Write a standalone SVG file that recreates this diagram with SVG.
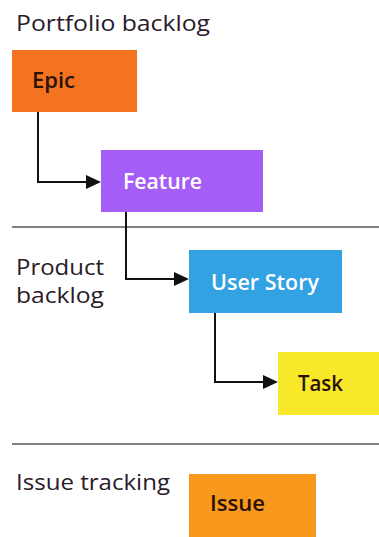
<svg xmlns="http://www.w3.org/2000/svg" width="379" height="537" viewBox="0 0 379 537">
<defs>
<style>
.lbl{font-family:"Open Sans","Noto Sans",sans-serif;font-size:22px;fill:#2a1a2a}
.sm{font-size:21px}
.nt{font-family:"Open Sans","Noto Sans",sans-serif;font-size:21px;font-weight:600}
.dark{fill:#2a1208}
.light{fill:#ffffff}
.sep{stroke:#808080;stroke-width:2}
.con{fill:none;stroke:#111;stroke-width:2}
.head{fill:#111}
</style>
</defs>
<rect width="379" height="537" fill="#ffffff"/>
<text class="lbl" x="16" y="31" textLength="194" lengthAdjust="spacingAndGlyphs">Portfolio backlog</text>
<text class="lbl sm" x="16" y="275" textLength="88" lengthAdjust="spacingAndGlyphs">Product</text>
<text class="lbl sm" x="16" y="303" textLength="88" lengthAdjust="spacingAndGlyphs">backlog</text>
<text class="lbl" x="16" y="490" textLength="154" lengthAdjust="spacingAndGlyphs">Issue tracking</text>
<line class="sep" x1="12" y1="227" x2="379" y2="227"/>
<line class="sep" x1="12" y1="444" x2="379" y2="444"/>
<g id="connectors">
<path class="con" d="M38,112 V182 H88"/>
<path class="head" d="M86,175 L101,182 L86,189 z"/>
<path class="con" d="M126,212 V279 H176"/>
<path class="head" d="M174,272 L189,279 L174,286 z"/>
<path class="con" d="M215,313 V382 H265"/>
<path class="head" d="M263,375 L278,382 L263,389 z"/>
</g>
<g id="epic">
<rect x="12" y="50" width="125" height="62" fill="#f47320"/>
<text class="nt dark" x="32" y="88" textLength="43" lengthAdjust="spacingAndGlyphs">Epic</text>
</g>
<g id="feature">
<rect x="101" y="150" width="162" height="62" fill="#a45ef5"/>
<text class="nt light" x="123" y="189" textLength="79" lengthAdjust="spacingAndGlyphs">Feature</text>
</g>
<g id="userstory">
<rect x="189" y="250" width="153" height="63" fill="#33a2e3"/>
<text class="nt light" x="211" y="290" textLength="108" lengthAdjust="spacingAndGlyphs">User Story</text>
</g>
<g id="task">
<rect x="278" y="352" width="101" height="63" fill="#f8e82a"/>
<text class="nt dark" x="298" y="391" textLength="45" lengthAdjust="spacingAndGlyphs">Task</text>
</g>
<g id="issue">
<rect x="189" y="474" width="127" height="63" fill="#f8991e"/>
<text class="nt dark" x="210" y="511" textLength="55" lengthAdjust="spacingAndGlyphs">Issue</text>
</g>
</svg>
